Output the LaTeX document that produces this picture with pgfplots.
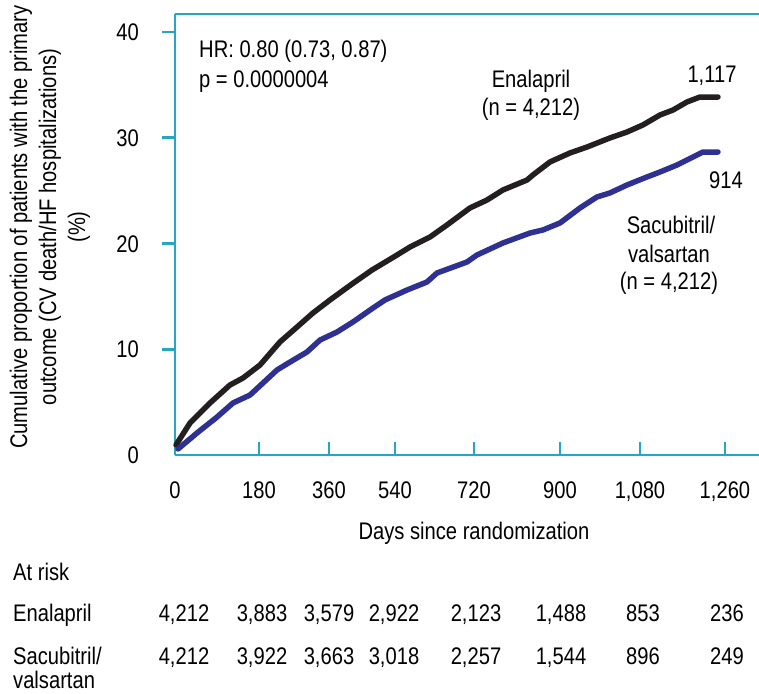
\documentclass[border=0pt]{standalone}
\usepackage{fontspec}
\setmainfont{Liberation Sans}[FakeStretch=0.84]
\usepackage{pgfplots}
\pgfplotsset{compat=1.18}
\definecolor{axcol}{RGB}{38,166,194}
\definecolor{enal}{RGB}{35,31,32}
\definecolor{sacu}{RGB}{46,49,146}
\begin{document}
\fontsize{24}{29}\selectfont
\begin{tikzpicture}
\path[use as bounding box] (0,0) rectangle (759pt,-693pt);
\begin{axis}[
  at={(175pt,-455pt)}, anchor=south west,
  scale only axis, width=584pt, height=441pt,
  xmin=0, xmax=1338, ymin=0, ymax=41.7,
  axis x line=box, axis y line=left,
  axis line style={draw=axcol, line width=2.6pt, -},
  xtick={0,192.4,352.8,504.0,685.0,882.0,1065.3,1260},
  xticklabels={0,180,360,540,720,900,{1,080},{1,260}},
  ytick={10,20,30,40},
  extra y ticks={0}, extra y tick style={major tick length=0pt},
  xtick pos=left, ytick pos=left,
  tick align=inside, major tick length=13pt,
  tick style={draw=axcol, line width=2.6pt},
  ytick style={xshift=-13pt},
  xticklabel style={anchor=base, inner sep=0pt, yshift=-43pt},
  yticklabel style={anchor=base east, inner sep=0pt, xshift=-36pt, yshift=-8.6pt},
  /pgf/number format/assume math mode=true,
  clip=false,
]
\addplot[enal, line width=5.5pt, line join=round, line cap=round] coordinates {
(2.3,0.95) (34.4,3.03) (80.2,4.92) (126,6.62) (155.8,7.28) (194.7,8.51)
(240.5,10.69) (279.5,12.10) (316.1,13.43) (355.1,14.66) (405.5,16.17)
(451.3,17.49) (508.6,18.91) (538.4,19.67) (584.2,20.61) (623.1,21.75)
(675.8,23.36) (714.8,24.11) (751.4,25.06) (806.4,26.00) (820.1,26.48)
(859.1,27.71) (904.9,28.56) (943.8,29.12) (996.5,29.98) (1035.5,30.54)
(1072.1,31.21) (1111.1,32.15) (1140.9,32.62) (1172.9,33.38) (1202.7,33.85)
(1244,33.85)};
\addplot[sacu, line width=5.5pt, line join=round, line cap=round] coordinates {
(6.9,0.57) (50.4,2.08) (96.2,3.59) (132.9,4.92) (171.8,5.67) (201.6,6.81)
(233.7,8.04) (263.5,8.79) (302.4,9.74) (332.2,10.87) (371.1,11.63)
(407.8,12.58) (453.6,13.90) (481.1,14.66) (531.5,15.60) (577.3,16.36)
(600.2,17.21) (668.9,18.25) (691.8,18.91) (751.4,20.05) (813.3,20.99)
(843.1,21.28) (882,21.94) (927.8,23.36) (966.8,24.40) (996.5,24.78)
(1035.5,25.53) (1081.3,26.29) (1111.1,26.76) (1150,27.42) (1186.7,28.18)
(1209.6,28.65) (1244,28.65)};
\end{axis}
% y label
\node[rotate=90, align=center, inner sep=0pt] at (50pt,-227pt)
  {Cumulative proportion of patients with the primary\\outcome (CV death/HF hospitalizations)\\(\%)};
% in-plot annotations
\node[anchor=base west, inner sep=0pt] at (199pt,-57pt) {HR: 0.80 (0.73, 0.87)};
\node[anchor=base west, inner sep=0pt] at (199pt,-87pt) {p = 0.0000004};
\node[anchor=base, inner sep=0pt] at (531pt,-87pt) {Enalapril};
\node[anchor=base, inner sep=0pt] at (531pt,-115pt) {(n = 4,212)};
\node[anchor=base, inner sep=0pt] at (712pt,-82pt) {1,117};
\node[anchor=base, inner sep=0pt] at (726pt,-188pt) {914};
\node[anchor=base, inner sep=0pt] at (671pt,-233pt) {Sacubitril/};
\node[anchor=base, inner sep=0pt] at (669pt,-262pt) {valsartan};
\node[anchor=base, inner sep=0pt] at (669pt,-289pt) {(n = 4,212)};
% x label
\node[anchor=base, inner sep=0pt] at (474pt,-539pt) {Days since randomization};
% at-risk table
\node[anchor=base west, inner sep=0pt] at (13pt,-580pt) {At risk};
\node[anchor=base west, inner sep=0pt] at (13pt,-621pt) {Enalapril};
\node[anchor=base west, inner sep=0pt] at (13pt,-664pt) {Sacubitril/};
\node[anchor=base west, inner sep=0pt] at (13pt,-688pt) {valsartan};
\foreach \cx/\a/\b in {184/{4,212}/{4,212}, 262/{3,883}/{3,922}, 329/{3,579}/{3,663},
  394/{2,922}/{3,018}, 476/{2,123}/{2,257}, 561/{1,488}/{1,544}, 643/853/896, 727/236/249}{
  \node[anchor=base, inner sep=0pt] at (\cx pt,-621pt) {\a};
  \node[anchor=base, inner sep=0pt] at (\cx pt,-664pt) {\b};
}
\end{tikzpicture}
\end{document}
